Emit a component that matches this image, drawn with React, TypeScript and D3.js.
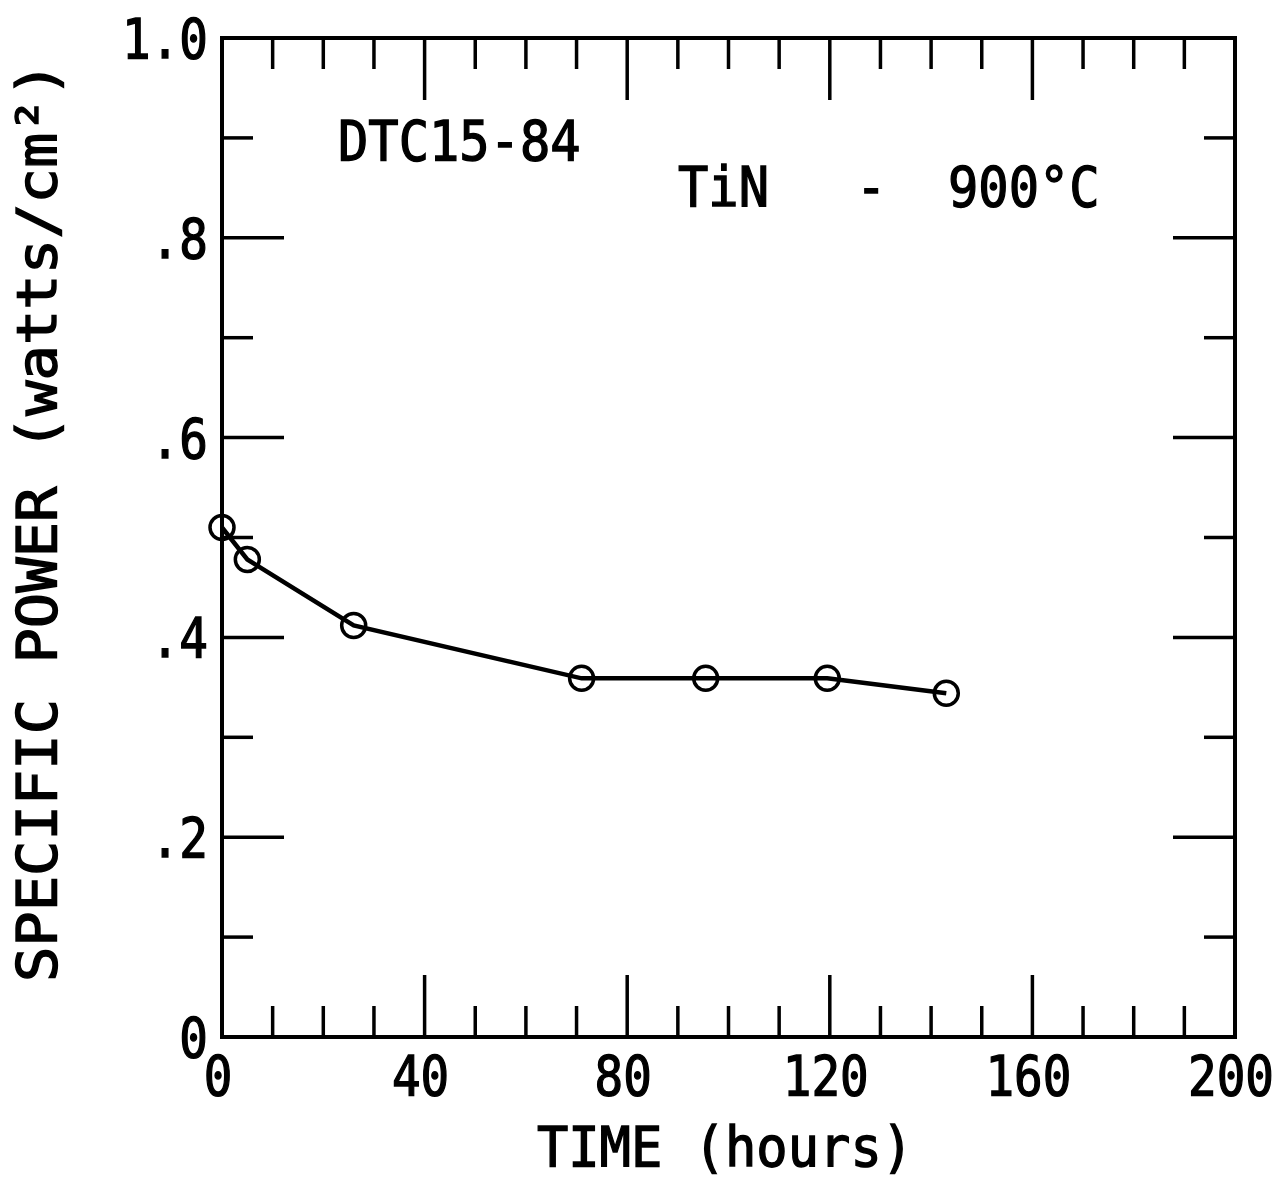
import React from 'react';
import * as d3 from 'd3';

// readings
const times = [0, 5, 26, 71, 95.5, 119.5, 143];
const power = [0.51, 0.478, 0.412, 0.359, 0.359, 0.359, 0.344];

const xTickValues = [0, 40, 80, 120, 160, 200];
const xTickLabels = ['0', '40', '80', '120', '160', '200'];
const yTickValues = [0, 0.2, 0.4, 0.6, 0.8, 1.0];
const yTickLabels = ['0', '.2', '.4', '.6', '.8', '1.0'];

const width = 1278;
const height = 1182;
const left = 222, right = 1235, top = 38, bottom = 1037;
const font = '"DejaVu Sans Mono", "Liberation Mono", monospace';

const Txt = ({ x, y, anchor = 'middle', size = 56, sx = 0.85, rotate = 0, children }: any) => (
  <text
    transform={`translate(${x},${y}) rotate(${rotate}) scale(${sx},1)`}
    textAnchor={anchor}
    fontFamily={font}
    fontSize={size}
    fill="#000"
    stroke="#000"
    strokeWidth={1.4}
  >
    {children}
  </text>
);

const App = () => {
  const x = d3.scaleLinear().domain([0, 200]).range([left, right]);
  const y = d3.scaleLinear().domain([0, 1]).range([bottom, top]);

  const pts: [number, number][] = times.map((t, i) => [t, power[i]]);
  const line = d3.line<[number, number]>().x(d => x(d[0])).y(d => y(d[1]));

  const xMinor = x.ticks(20).filter(t => t % 40 !== 0);
  const yMinor = y.ticks(10).filter(t => Math.round(t * 10) % 2 !== 0);

  const minorLen = 31, majorLen = 62;

  return (
    <svg width={width} height={height} style={{ position: 'absolute', left: 0, top: 0, background: '#fff' }}>
      <g stroke="#000" strokeWidth={3.5} fill="none">
        {xMinor.map(t => (
          <g key={'xm' + t}>
            <line x1={x(t)} x2={x(t)} y1={bottom} y2={bottom - minorLen} />
            <line x1={x(t)} x2={x(t)} y1={top} y2={top + minorLen} />
          </g>
        ))}
        {xTickValues.map(t => (
          <g key={'xM' + t}>
            <line x1={x(t)} x2={x(t)} y1={bottom} y2={bottom - majorLen} />
            <line x1={x(t)} x2={x(t)} y1={top} y2={top + majorLen} />
          </g>
        ))}
        {yMinor.map(t => (
          <g key={'ym' + t}>
            <line x1={left} x2={left + minorLen} y1={y(t)} y2={y(t)} />
            <line x1={right} x2={right - minorLen} y1={y(t)} y2={y(t)} />
          </g>
        ))}
        {yTickValues.map(t => (
          <g key={'yM' + t}>
            <line x1={left} x2={left + majorLen} y1={y(t)} y2={y(t)} />
            <line x1={right} x2={right - majorLen} y1={y(t)} y2={y(t)} />
          </g>
        ))}
        <rect x={left} y={top} width={right - left} height={bottom - top} strokeWidth={4} />
      </g>

      {xTickValues.map((t, i) => (
        <Txt key={'xl' + t} x={x(t) - 4} y={1095}>{xTickLabels[i]}</Txt>
      ))}
      {yTickValues.map((t, i) => (
        <Txt key={'yl' + t} x={208} y={y(t) + 20} anchor="end">{yTickLabels[i]}</Txt>
      ))}

      <Txt x={725} y={1166} sx={0.93}>TIME (hours)</Txt>
      <Txt x={56} y={522} rotate={-90} sx={1.05}>SPECIFIC POWER (watts/cm²)</Txt>

      <Txt x={338} y={160} anchor="start" sx={0.9}>DTC15-84</Txt>
      <Txt x={678} y={206} anchor="start" sx={0.9}>TiN</Txt>
      <Txt x={856} y={206} anchor="start" sx={0.9}>-</Txt>
      <Txt x={948} y={206} anchor="start" sx={0.9}>900°C</Txt>

      <path d={line(pts) || ''} fill="none" stroke="#000" strokeWidth={4.5} />
      {pts.map((d, i) => (
        <circle key={i} cx={x(d[0])} cy={y(d[1])} r={12} fill="none" stroke="#000" strokeWidth={3.5} />
      ))}
    </svg>
  );
};

export default App;
